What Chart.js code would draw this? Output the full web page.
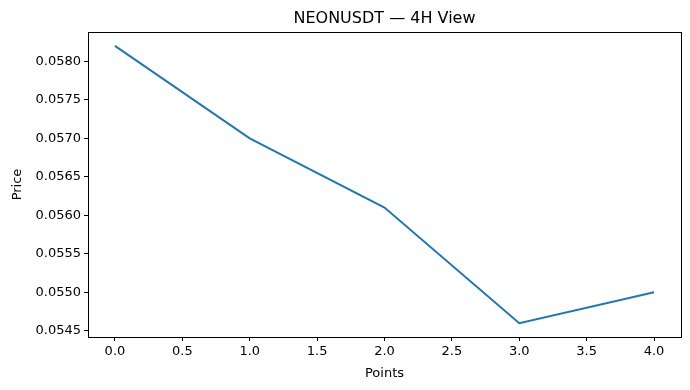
<!DOCTYPE html>
<html>
<head>
<meta charset="utf-8">
<script src="https://cdn.jsdelivr.net/npm/chart.js@4.4.1/dist/chart.umd.min.js"></script>
<style>
  html, body { margin: 0; padding: 0; background: #fff; }
  #wrap { width: 690px; height: 390px; }
</style>
</head>
<body>
<div id="wrap"><canvas id="priceChart" width="690" height="390"></canvas></div>
<script>
// data
const points = [0, 1, 2, 3, 4];
const prices = [0.0582, 0.0570, 0.0561, 0.0546, 0.0550];
const xTicks = [0, 0.5, 1, 1.5, 2, 2.5, 3, 3.5, 4];
const yTicks = [0.0545, 0.0550, 0.0555, 0.0560, 0.0565, 0.0570, 0.0575, 0.0580];
const titleText = "NEONUSDT \u2014 4H View";

const FONT = "'DejaVu Sans', sans-serif";

// matplotlib-ish 5% margins
const xSpan = Math.max(...points) - Math.min(...points);
const ySpan = Math.max(...prices) - Math.min(...prices);

// frame + centered title over the plot area
const framePlugin = {
  id: "frame",
  afterDraw(chart) {
    const { ctx, chartArea: a } = chart;
    ctx.save();
    ctx.strokeStyle = "#000";
    ctx.lineWidth = 1;
    ctx.strokeRect(a.left + 0.5, a.top + 0.5, a.right - a.left, a.bottom - a.top);
    ctx.fillStyle = "#000";
    ctx.font = "16px " + FONT;
    ctx.textAlign = "center";
    ctx.textBaseline = "alphabetic";
    ctx.fillText(titleText, (a.left + a.right) / 2, a.top - 9);
    ctx.restore();
  },
};

const ctx = document.getElementById("priceChart").getContext("2d");
new Chart(ctx, {
  type: "line",
  data: {
    datasets: [
      {
        data: points.map((p, i) => ({ x: p, y: prices[i] })),
        borderColor: "#1f77b4",
        borderWidth: 2,
        pointRadius: 0,
        tension: 0,
        fill: false,
      },
    ],
  },
  options: {
    responsive: false,
    animation: false,
    devicePixelRatio: 1,
    layout: { padding: { top: 32, right: 9, left: 0, bottom: 0 } },
    plugins: {
      legend: { display: false },
      tooltip: { enabled: false },
      title: { display: false },
    },
    scales: {
      x: {
        type: "linear",
        min: Math.min(...points) - xSpan * 0.05,
        max: Math.max(...points) + xSpan * 0.05,
        afterBuildTicks: (s) => { s.ticks = xTicks.map((v) => ({ value: v })); },
        afterFit: (s) => { s.height = 53; },
        grid: { display: true, drawOnChartArea: false, drawTicks: true, tickLength: 4, color: "#000" },
        border: { display: true, color: "#000" },
        ticks: {
          color: "#000",
          font: { family: FONT, size: 13 },
          padding: 3,
          maxRotation: 0,
          callback: (v) => Number(v).toFixed(1),
        },
        title: {
          display: true,
          text: "Points",
          color: "#000",
          font: { family: FONT, size: 13 },
          padding: { top: 2, bottom: 9 },
        },
      },
      y: {
        min: Math.min(...prices) - ySpan * 0.05,
        max: Math.max(...prices) + ySpan * 0.05,
        afterBuildTicks: (s) => { s.ticks = yTicks.map((v) => ({ value: v })); },
        afterFit: (s) => { s.width = 88; },
        grid: { display: true, drawOnChartArea: false, drawTicks: true, tickLength: 4, color: "#000" },
        border: { display: true, color: "#000" },
        ticks: {
          color: "#000",
          font: { family: FONT, size: 13 },
          padding: 3,
          callback: (v) => Number(v).toFixed(4),
        },
        title: {
          display: true,
          text: "Price",
          color: "#000",
          font: { family: FONT, size: 13 },
          padding: { top: 10, bottom: 4 },
        },
      },
    },
  },
  plugins: [framePlugin],
});
</script>
</body>
</html>
